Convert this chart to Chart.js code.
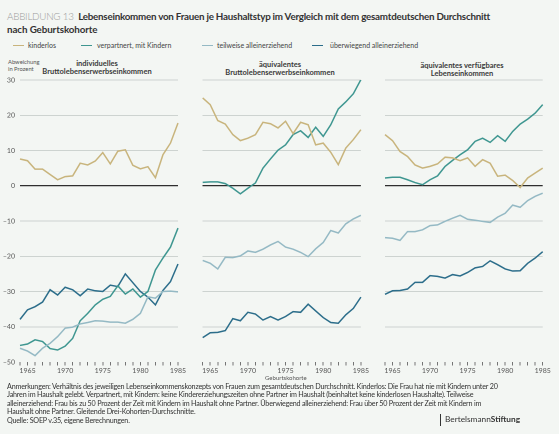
<!DOCTYPE html>
<html><head><meta charset="utf-8">
<script src="https://cdn.jsdelivr.net/npm/chart.js@4"></script>
<style>
body{margin:0;background:#f3f6f3;width:559px;height:434px;overflow:hidden;position:relative;font-family:Lato,"Open Sans",sans-serif;color:#333}
.t{position:absolute;white-space:nowrap}
canvas{position:absolute}
.lg{position:absolute;height:1.5px;width:11px}
.pt{position:absolute;width:200px;text-align:center;font-size:7.5px;line-height:8.2px;font-weight:700;color:#3a3a3a}
.fn{position:absolute;left:7px;font-size:7.2px;letter-spacing:-0.21px;color:#333;white-space:nowrap}
</style></head><body>

<div class="t" style="left:7px;top:10px;font-size:9.8px;letter-spacing:-0.24px"><span style="color:#9a9a9a;font-weight:300">ABBILDUNG 13</span>&nbsp; <b id="ttl" style="color:#333">Lebenseinkommen von Frauen je Haushaltstyp im Vergleich mit dem gesamtdeutschen Durchschnitt</b></div>
<div class="t" style="left:7px;top:23px;font-size:9.8px;letter-spacing:-0.1px;font-weight:700;color:#333">nach Geburtskohorte</div>

<div class="lg" style="left:13px;top:44.5px;background:#c8b47c"></div>
<div class="t" style="left:28px;top:40.5px;font-size:7px;color:#444">kinderlos</div>
<div class="lg" style="left:81px;top:44.5px;background:#3e9690"></div>
<div class="t" style="left:97px;top:40.5px;font-size:7px;color:#444">verpartnert, mit Kindern</div>
<div class="lg" style="left:202px;top:44.5px;background:#94b9c4"></div>
<div class="t" style="left:217px;top:40.5px;font-size:7px;color:#444">teilweise alleinerziehend</div>
<div class="lg" style="left:312px;top:44.5px;background:#2b6d8a"></div>
<div class="t" style="left:330px;top:40.5px;font-size:7px;color:#444">überwiegend alleinerziehend</div>

<div class="t" style="left:8px;top:59px;font-size:5.8px;line-height:6.5px;color:#555">Abweichung<br>in Prozent</div>
<div class="pt" style="left:-3px;top:60px">individuelles<br>Bruttolebenserwerbseinkommen</div>
<div class="pt" style="left:180px;top:61px">äquivalentes<br>Bruttolebenserwerbseinkommen</div>
<div class="pt" style="left:362px;top:62px">äquivalentes verfügbares<br>Lebenseinkommen</div>

<canvas id="c1" width="190" height="308" style="left:0px;top:70px"></canvas>
<canvas id="c2" width="180" height="308" style="left:190px;top:70px"></canvas>
<canvas id="c3" width="187" height="308" style="left:372px;top:70px"></canvas>

<div class="t" style="left:265px;top:374px;font-size:6px;color:#555">Geburtskohorte</div>

<div class="fn" style="top:381.5px">Anmerkungen: Verhältnis des jeweiligen Lebenseinkommenskonzepts von Frauen zum gesamtdeutschen Durchschnitt. Kinderlos: Die Frau hat nie mit Kindern unter 20</div>
<div class="fn" style="top:390px">Jahren im Haushalt gelebt. Verpartnert, mit Kindern: keine Kindererziehungszeiten ohne Partner im Haushalt (beinhaltet keine kinderlosen Haushalte). Teilweise</div>
<div class="fn" style="top:398.5px">alleinerziehend: Frau bis zu 50 Prozent der Zeit mit Kindern im Haushalt ohne Partner. Überwiegend alleinerziehend: Frau über 50 Prozent der Zeit mit Kindern im</div>
<div class="fn" style="top:407px">Haushalt ohne Partner. Gleitende Drei-Kohorten-Durchschnitte.</div>
<div class="fn" style="top:416px">Quelle: SOEP v.35, eigene Berechnungen.</div>
<div style="position:absolute;left:440px;top:414px;width:1px;height:12px;background:#333"></div>
<div class="t" style="left:445px;top:414px;font-size:8.3px;color:#333">Bertelsmann<b>Stiftung</b></div>

<script>
const years = [1964,1965,1966,1967,1968,1969,1970,1971,1972,1973,1974,1975,1976,1977,1978,1979,1980,1981,1982,1983,1984,1985];
const yTicks = [30,20,10,0,-10,-20,-30,-40,-50];

// Panel 1: individuelles Bruttolebenserwerbseinkommen
const kinderlos1   = [7.6,7.1,4.7,4.7,3.2,1.7,2.6,2.8,6.4,5.9,7.0,9.4,6.2,9.8,10.2,5.8,4.8,5.4,2.3,8.8,12.1,17.8];
const verpartnert1 = [-45.3,-44.9,-43.7,-44.2,-46.2,-46.6,-45.5,-43.3,-38.3,-36.2,-33.8,-32.2,-31.4,-28.4,-30.7,-29.3,-31.6,-30.0,-23.9,-20.5,-17.4,-12.0];
const teilweise1   = [-46.1,-46.9,-48.2,-46.1,-44.7,-42.8,-40.4,-40.1,-39.2,-38.8,-38.3,-38.4,-38.7,-38.7,-39.0,-37.9,-36.2,-31.5,-31.9,-30.0,-29.9,-30.1];
const ueberwiegend1= [-37.9,-35.2,-34.3,-33.0,-29.5,-31.0,-28.8,-29.5,-31.2,-29.3,-29.8,-30.0,-28.2,-28.6,-25.0,-27.5,-30.0,-31.6,-33.8,-29.7,-27.2,-22.2];

// Panel 2: äquivalentes Bruttolebenserwerbseinkommen
const kinderlos2   = [24.9,23.0,18.5,17.5,14.5,12.8,13.5,14.5,18.0,17.6,16.4,18.3,14.8,18.0,17.3,11.6,12.1,9.5,6.0,10.7,13.1,15.9];
const verpartnert2 = [0.95,1.1,1.1,0.6,-0.7,-2.3,-0.7,0.8,5.0,7.6,10.1,11.6,14.5,15.6,13.7,16.6,14.0,17.3,21.8,23.8,26.1,30.1];
const teilweise2   = [-21.2,-22.0,-23.6,-20.3,-20.4,-19.9,-18.5,-18.9,-18.0,-16.8,-15.8,-17.4,-18.0,-18.9,-20.1,-17.9,-16.1,-12.7,-13.4,-10.8,-9.4,-8.4];
const ueberwiegend2= [-43.1,-41.7,-41.6,-41.1,-37.7,-38.3,-35.9,-36.4,-38.1,-37.1,-38.1,-37.1,-35.7,-35.9,-33.6,-35.5,-37.4,-38.8,-39.0,-36.6,-34.8,-31.6];

// Panel 3: äquivalentes verfügbares Lebenseinkommen
const kinderlos3   = [14.5,12.8,9.7,8.3,5.9,5.0,5.5,6.2,8.1,7.9,7.1,7.9,5.5,7.4,6.4,2.7,3.0,1.5,-0.5,2.2,3.6,5.0];
const verpartnert3 = [2.2,2.4,2.4,1.7,0.9,0.3,1.7,2.8,5.5,7.2,8.8,10.2,12.6,13.5,12.3,14.2,12.6,15.4,17.5,18.9,20.6,23.0];
const teilweise3   = [-14.7,-14.9,-15.5,-13.0,-13.0,-12.5,-11.3,-11.1,-10.1,-9.2,-8.4,-9.5,-9.8,-10.1,-10.4,-8.9,-7.8,-5.5,-6.1,-4.2,-3.0,-2.1];
const ueberwiegend3= [-30.8,-29.8,-29.7,-29.3,-27.4,-27.4,-25.5,-25.7,-26.2,-25.2,-25.6,-24.6,-23.3,-22.9,-21.3,-22.4,-23.6,-24.2,-24.1,-22.0,-20.5,-18.7];

const COLORS = {kinderlos:'#c8b47c', verpartnert:'#3e9690', teilweise:'#94b9c4', ueberwiegend:'#2b6d8a'};

function ds(label, data, color){
  return {label, data, borderColor:color, backgroundColor:color, borderWidth:1.5, pointRadius:0, tension:0, fill:false};
}

function makePanel(id, sets, showY, yw, rightPad){
  new Chart(document.getElementById(id), {
    type:'line',
    data:{labels:years, datasets:[
      ds('kinderlos', sets[0], COLORS.kinderlos),
      ds('teilweise alleinerziehend', sets[2], COLORS.teilweise),
      ds('verpartnert, mit Kindern', sets[1], COLORS.verpartnert),
      ds('überwiegend alleinerziehend', sets[3], COLORS.ueberwiegend)
    ]},
    options:{
      responsive:false, animation:false, devicePixelRatio:2,
      layout:{padding:{left:0,right:rightPad,top:10,bottom:0}},
      plugins:{legend:{display:false}, tooltip:{enabled:false}},
      scales:{
        x:{
          offset:false,
          border:{display:false},
          grid:{drawOnChartArea:false, drawTicks:true, tickLength:3.5, color:'#555', lineWidth:0.8},
          ticks:{autoSkip:false, maxRotation:0, padding:1, color:'#555', font:{family:'Lato', size:7},
            callback:function(v,i){ return years[i]%5===0 ? String(years[i]) : ''; }},
          afterFit:function(s){ s.height = 16; }
        },
        y:{
          min:-50, max:30,
          border:{display:false},
          afterBuildTicks:function(s){ s.ticks = yTicks.map(v=>({value:v})); },
          grid:{drawTicks:false,
            color:function(c){ const v=c.tick.value; return v===0?'#2e2e2e':(v===-50?'rgba(0,0,0,0)':'#cdd3d0'); },
            lineWidth:function(c){ return c.tick.value===0?1.3:1; }},
          ticks:{display:showY, padding:5, color:'#555', font:{family:'Lato', size:7},
            callback:function(v){ return v<0 ? '\u2013'+Math.abs(v) : String(v); }},
          afterFit:function(s){ s.width = yw; }
        }
      }
    }
  });
}

makePanel('c1', [kinderlos1, verpartnert1, teilweise1, ueberwiegend1], true, 20, 12);
makePanel('c2', [kinderlos2, verpartnert2, teilweise2, ueberwiegend2], false, 12.7, 9);
makePanel('c3', [kinderlos3, verpartnert3, teilweise3, ueberwiegend3], false, 13, 16.3);
</script>
</body></html>
